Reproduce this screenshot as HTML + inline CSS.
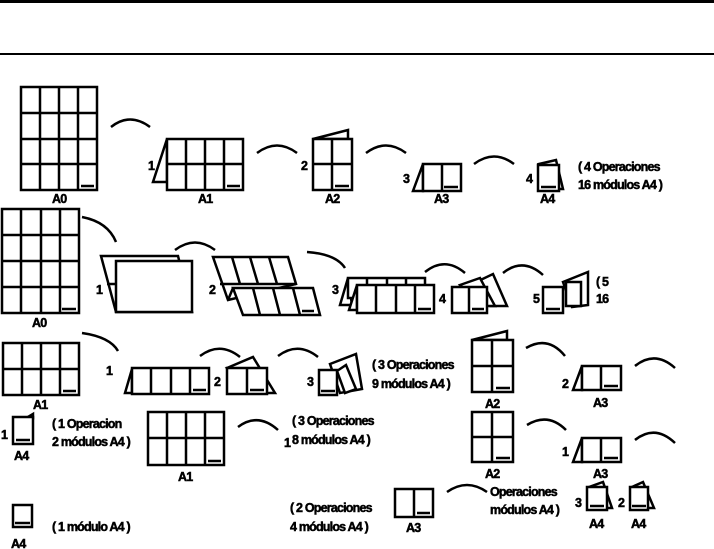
<!DOCTYPE html>
<html><head><meta charset="utf-8"><style>
html,body{margin:0;padding:0;background:#fff;}
svg{display:block}
text{font-family:"Liberation Sans",Arial,sans-serif;font-weight:bold;font-size:12.5px;fill:#000;stroke:#000;stroke-width:0.5;letter-spacing:-0.8px}
.s{fill:#fff;stroke:#000;stroke-width:2.5}
.l{fill:none;stroke:#000;stroke-width:2.5}
.a{fill:none;stroke:#000;stroke-width:2.5}
</style></head><body>
<svg width="714" height="549" viewBox="0 0 714 549">
<rect x="0" y="0" width="714" height="3" fill="#000"/>
<rect x="0" y="53" width="714" height="2" fill="#000"/>

<!-- Row 1 -->
<rect class="s" x="21" y="87" width="76" height="103"/>
<path class="l" d="M40 87V190M59 87V190M78 87V190M21 113H97M21 139H97M21 164H97M81 186H94"/>
<text x="52" y="203">A0</text>
<path class="a" d="M111 127Q130 112 150 127"/>

<polygon class="s" points="167,139 153,182 167,182"/>
<rect class="s" x="167" y="139" width="76" height="51"/>
<path class="l" d="M186 139V190M205 139V190M224 139V190M167 164H243M227 186H240"/>
<text x="148" y="170">1</text>
<text x="198" y="203">A1</text>
<path class="a" d="M257 153Q277 138 297 153"/>

<polygon class="s" points="313,139 348,130 348,139"/>
<rect class="s" x="313" y="139" width="39" height="51"/>
<path class="l" d="M332 139V190M313 164H352M335 186H349"/>
<text x="301" y="170">2</text>
<text x="325" y="203">A2</text>
<path class="a" d="M366 153Q386 138 406 153"/>

<polygon class="s" points="423,164 413,191 423,191"/>
<rect class="s" x="423" y="164" width="38" height="27"/>
<path class="l" d="M442 164V191M444 187H458"/>
<text x="403" y="183">3</text>
<text x="434" y="203">A3</text>
<path class="a" d="M474 164Q494 149 514 164"/>

<polygon class="s" points="539,164 556,160 563,189 559,189"/>
<rect class="s" x="538" y="165" width="21" height="26"/>
<path class="l" d="M541 187H556"/>
<text x="526" y="183">4</text>
<text x="540" y="203">A4</text>
<text x="578" y="171">( 4 Operaciones</text>
<text x="578" y="189">16 módulos A4 )</text>

<!-- Row 2 -->
<rect class="s" x="2" y="209" width="77" height="104"/>
<path class="l" d="M21 209V313M41 209V313M60 209V313M2 235H79M2 261H79M2 287H79M62 309H76"/>
<text x="32" y="327">A0</text>
<path class="a" d="M82 217Q108 222 116 242"/>

<polygon class="s" points="101,256 178,256 192,312 116,312"/>
<rect class="s" x="116" y="261" width="76" height="51"/>
<path class="l" d="M107 284H116"/>
<text x="96" y="294">1</text>
<path class="a" d="M175 250Q195 235 215 250"/>

<polygon class="s" points="213,257 288,257 296,284 228,300"/>
<path class="l" d="M232 257L240 284M250 257L258 284M269 257L277 284M220 284H296"/>
<polygon class="s" points="233,288 313,288 320,315 243,315"/>
<path class="l" d="M253 288L260 315M273 288L280 315M293 288L300 315M302 311H314M233 288L228 300"/>
<text x="209" y="294">2</text>
<path class="a" d="M307 252Q336 254 345 268"/>

<polygon class="s" points="348,278 340,305 352,305"/>
<rect class="s" x="348" y="278" width="77" height="20"/>
<path class="l" d="M367 278V285M387 278V285M406 278V285"/>
<polygon class="s" points="357,285 349,310 357,310"/>
<rect class="s" x="357" y="285" width="77" height="28"/>
<path class="l" d="M376 285V313M396 285V313M415 285V313M418 309H431"/>
<text x="332" y="294">3</text>
<path class="a" d="M425 272Q445 256 465 273"/>

<polygon class="s" points="470,285 493,274 507,306 490,306"/>
<polygon class="s" points="460,285 480,278 495,306 480,306"/>
<rect class="s" x="452" y="287" width="35" height="26"/>
<path class="l" d="M469 287V313M472 309H484"/>
<text x="439" y="303">4</text>
<path class="a" d="M503 273Q523 257 543 275"/>

<polygon class="s" points="563,282 588,272 588,305 572,307"/>
<rect class="s" x="566" y="282" width="15" height="24"/>
<rect class="s" x="543" y="287" width="20" height="26"/>
<path class="l" d="M546 309H560"/>
<text x="533" y="303">5</text>
<text x="596" y="286">( 5</text>
<text x="596" y="303">16</text>

<!-- Row 3 -->
<rect class="s" x="3" y="343" width="76" height="52"/>
<path class="l" d="M22 343V395M41 343V395M60 343V395M3 369H79M63 391H76"/>
<text x="33" y="409">A1</text>
<path class="a" d="M82 333Q110 337 118 351"/>
<text x="106" y="375">1</text>

<polygon class="s" points="132,369 125,393 132,393"/>
<rect class="s" x="132" y="368" width="77" height="26"/>
<path class="l" d="M151 368V394M171 368V394M190 368V394M193 390H206"/>
<path class="a" d="M200 356Q220 341 240 357"/>
<text x="214" y="386">2</text>
<polygon class="s" points="227,368 253,357 275,393 255,393"/>
<rect class="s" x="227" y="368" width="40" height="26"/>
<path class="l" d="M247 368V394M250 390H264"/>
<path class="a" d="M278 356Q298 341 318 357"/>
<text x="307" y="386">3</text>
<polygon class="s" points="330,364 356,354 362,389 340,393"/>
<polygon class="s" points="337,371 346,365 356,389 345,393"/>
<rect class="s" x="319" y="370" width="18" height="25"/>
<path class="l" d="M321 391H335"/>
<text x="372" y="369">( 3 Operaciones</text>
<text x="372" y="388">9 módulos A4 )</text>

<polygon class="s" points="472,340 507,331 507,340"/>
<rect class="s" x="472" y="340" width="41" height="52"/>
<path class="l" d="M492 340V392M472 366H513M496 388H510"/>
<text x="485" y="408">A2</text>
<path class="a" d="M526 348Q548 335 565 356"/>
<text x="562" y="388">2</text>
<polygon class="s" points="582,366 573,390 582,390"/>
<rect class="s" x="582" y="366" width="39" height="24"/>
<path class="l" d="M601 366V390M604 386H618"/>
<text x="593" y="407">A3</text>
<path class="a" d="M635 366Q655 350 675 368"/>

<!-- Row 4 -->
<polygon class="s" points="28,417 33,414 33,418"/>
<rect class="s" x="13" y="417" width="20" height="27"/>
<path class="l" d="M16 440H30"/>
<text x="1" y="439">1</text>
<text x="14" y="460">A4</text>
<text x="52" y="428">( 1 Operacion</text>
<text x="52" y="446">2 módulos A4 )</text>

<rect class="s" x="148" y="412" width="76" height="53"/>
<path class="l" d="M167 412V465M186 412V465M205 412V465M148 438H224M208 461H221"/>
<text x="178" y="481">A1</text>
<path class="a" d="M238 427Q258 412 278 430"/>
<text x="292" y="425">( 3 Operaciones</text>
<text x="292" y="444">8 módulos A4 )</text>
<text x="284" y="447">1</text>

<rect class="s" x="472" y="412" width="41" height="50"/>
<path class="l" d="M492 412V462M472 437H513M496 458H510"/>
<text x="485" y="478">A2</text>
<path class="a" d="M527 425Q548 412 566 430"/>
<text x="562" y="456">1</text>
<polygon class="s" points="582,438 573,462 582,462"/>
<rect class="s" x="582" y="438" width="39" height="24"/>
<path class="l" d="M601 438V462M604 458H618"/>
<text x="593" y="478">A3</text>
<path class="a" d="M635 440Q655 424 675 443"/>

<!-- Row 5 -->
<rect class="s" x="13" y="505" width="19" height="22"/>
<path class="l" d="M15 523H30"/>
<text x="11" y="548">A4</text>
<text x="52" y="531">( 1 módulo A4 )</text>

<text x="290" y="512">( 2 Operaciones</text>
<text x="290" y="531">4 módulos A4 )</text>
<rect class="s" x="395" y="489" width="38" height="28"/>
<path class="l" d="M414 489V517M417 513H430"/>
<text x="406" y="532">A3</text>
<path class="a" d="M447 492Q467 478 487 492"/>
<text x="490" y="496">Operaciones</text>
<text x="490" y="514">módulos A4 )</text>
<text x="575" y="507">3</text>
<polygon class="s" points="589,487 603,482 612,508 605,508"/>
<rect class="s" x="587" y="487" width="20" height="23"/>
<path class="l" d="M590 506H604"/>
<text x="589" y="528">A4</text>
<text x="618" y="507">2</text>
<polygon class="s" points="632,487 643,482 654,508 646,508"/>
<rect class="s" x="630" y="487" width="18" height="23"/>
<path class="l" d="M632 506H646"/>
<text x="631" y="528">A4</text>
</svg>
</body></html>
